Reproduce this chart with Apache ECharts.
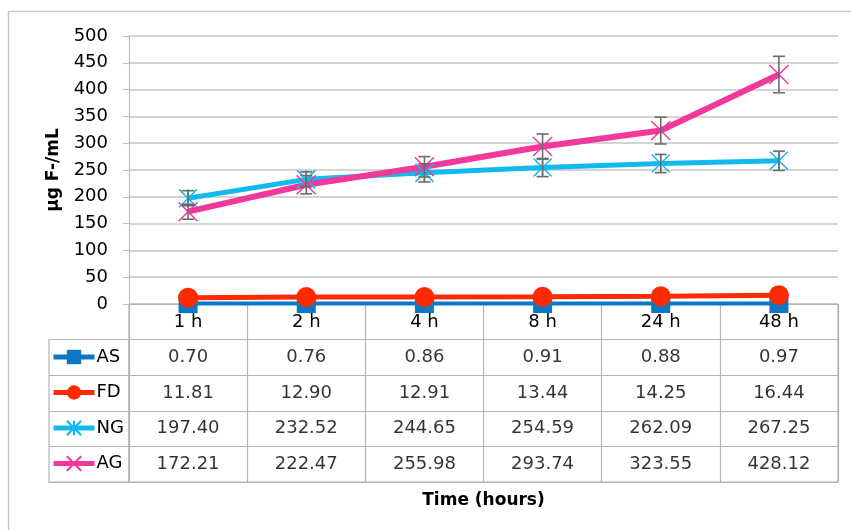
<!DOCTYPE html>
<html>
<head>
<meta charset="utf-8">
<script src="https://cdn.jsdelivr.net/npm/echarts@6/dist/echarts.min.js"></script>
<style>
  html, body { margin: 0; padding: 0; background: #fff; }
  #chart { width: 851px; height: 530px; }
</style>
</head>
<body>
<div id="chart"></div>
<script>
// data
const categories = ['1 h', '2 h', '4 h', '8 h', '24 h', '48 h']
const AS = [0.70, 0.76, 0.86, 0.91, 0.88, 0.97]
const FD = [11.81, 12.90, 12.91, 13.44, 14.25, 16.44]
const NG = [197.40, 232.52, 244.65, 254.59, 262.09, 267.25]
const AG = [172.21, 222.47, 255.98, 293.74, 323.55, 428.12]
// error bar half-widths
const NG_err = [14, 14, 17, 17, 17, 18]
const AG_err = [14, 17, 19, 23.5, 25, 34]

const FONT = 'DejaVu Sans'
const GRID_LINE = '#c6c6c6'
const TABLE_LINE = '#b4b4b4'

const colors = {
  AS: '#0b78c6',
  FD: '#ff2a00',
  NG: '#10b9ee',
  AG: '#f2389b'
}

const starPath = 'path://M0,0L10,10M10,0L0,10M5,0L5,10'
const crossPath = 'path://M0,0L10,10M10,0L0,10'

// rows of the data table, top to bottom
const tableRows = [AS, FD, NG, AG]
const tableData = []
tableRows.forEach((row, i) => {
  row.forEach((v, j) => {
    tableData.push([j, tableRows.length - 0.5 - i, v])
  })
})

function errData(vals, errs) {
  return vals.map((v, j) => [j, v - errs[j], v + errs[j]])
}

function errorBars(name, data) {
  return {
    name: name,
    type: 'custom',
    xAxisIndex: 0,
    yAxisIndex: 0,
    z: 5,
    silent: true,
    encode: { x: 0, y: [1, 2] },
    data: data,
    renderItem: function(params, api) {
      const lo = api.coord([api.value(0), api.value(1)])
      const hi = api.coord([api.value(0), api.value(2)])
      const w = 6
      const style = { stroke: '#6c6c6c', lineWidth: 1.6 }
      return {
        type: 'group',
        children: [
          { type: 'line', shape: { x1: hi[0], y1: hi[1], x2: lo[0], y2: lo[1] }, style: style },
          { type: 'line', shape: { x1: hi[0] - w, y1: hi[1], x2: hi[0] + w, y2: hi[1] }, style: style },
          { type: 'line', shape: { x1: lo[0] - w, y1: lo[1], x2: lo[0] + w, y2: lo[1] }, style: style }
        ]
      }
    }
  }
}

const chart = echarts.init(document.getElementById('chart'))

chart.setOption({
  animation: false,
  textStyle: { fontFamily: FONT },
  graphic: [
    {
      type: 'rect',
      shape: { x: 8.5, y: 11.5, width: 900, height: 600 },
      style: { fill: 'none', stroke: '#c4c4c4', lineWidth: 1.5 },
      silent: true
    }
  ],
  legend: {
    orient: 'vertical',
    left: 51,
    top: 348,
    padding: 0,
    itemWidth: 41,
    itemHeight: 18,
    itemGap: 17.5,
    selectedMode: false,
    data: [
      { name: 'AS', lineStyle: { width: 5 } },
      { name: 'FD', lineStyle: { width: 5 } },
      { name: 'NG', lineStyle: { width: 5 } },
      { name: 'AG', lineStyle: { width: 5 } }
    ],
    textStyle: { fontFamily: FONT, fontSize: 18, color: '#000', lineHeight: 18, padding: [0, 0, 0, -3] }
  },
  grid: [
    { left: 129, right: 13, top: 36, bottom: 226 },
    { left: 129, right: 13, top: 304, bottom: 48, show: true, borderColor: TABLE_LINE, borderWidth: 1.2 },
    { left: 49, width: 80, top: 339.5, bottom: 48, show: true, borderColor: TABLE_LINE, borderWidth: 1.2 }
  ],
  xAxis: [
    {
      gridIndex: 0,
      type: 'category',
      data: categories,
      boundaryGap: true,
      axisLine: { show: false },
      axisTick: { show: false },
      axisLabel: { color: '#000', fontSize: 18, margin: 9, fontFamily: FONT }
    },
    {
      gridIndex: 1,
      type: 'category',
      data: categories,
      boundaryGap: true,
      axisLine: { show: false },
      axisTick: { show: false },
      axisLabel: { show: false },
      splitLine: { show: true, lineStyle: { color: TABLE_LINE, width: 1.2 } },
      name: 'Time (hours)',
      nameLocation: 'middle',
      nameGap: 10,
      nameTextStyle: { fontFamily: FONT, fontSize: 17, fontWeight: 'bold', color: '#000', verticalAlign: 'top' }
    },
    {
      gridIndex: 2,
      type: 'value',
      min: 0,
      max: 1,
      show: false
    }
  ],
  yAxis: [
    {
      gridIndex: 0,
      type: 'value',
      min: 0,
      max: 500,
      interval: 50,
      axisLine: { show: true, lineStyle: { color: '#bdbdbd', width: 1.2 } },
      axisTick: { show: true, length: 6, lineStyle: { color: '#bdbdbd', width: 1.2 } },
      axisLabel: { color: '#000', fontSize: 18, margin: 21, fontFamily: FONT },
      splitLine: { lineStyle: { color: GRID_LINE, width: 1.5 } },
      name: 'μg F-/mL',
      nameLocation: 'middle',
      nameRotate: 90,
      nameGap: 67,
      nameTextStyle: { fontFamily: FONT, fontSize: 17, fontWeight: 'bold', color: '#000' }
    },
    {
      gridIndex: 1,
      type: 'value',
      min: 0,
      max: 5,
      interval: 1,
      axisLine: { show: false },
      axisTick: { show: false },
      axisLabel: { show: false },
      splitLine: { show: true, lineStyle: { color: TABLE_LINE, width: 1.2 } }
    },
    {
      gridIndex: 2,
      type: 'value',
      min: 0,
      max: 4,
      interval: 1,
      axisLine: { show: false },
      axisTick: { show: false },
      axisLabel: { show: false },
      splitLine: { show: true, lineStyle: { color: TABLE_LINE, width: 1.2 } }
    }
  ],
  series: [
    {
      name: 'AS',
      type: 'line',
      data: AS,
      symbol: 'rect',
      symbolSize: 19,
      itemStyle: { color: colors.AS },
      lineStyle: { color: colors.AS, width: 4 }
    },
    {
      name: 'FD',
      type: 'line',
      data: FD,
      symbol: 'circle',
      symbolSize: 20,
      itemStyle: { color: colors.FD },
      lineStyle: { color: colors.FD, width: 5 }
    },
    {
      name: 'NG',
      type: 'line',
      data: NG,
      symbol: starPath,
      symbolSize: 18,
      itemStyle: { color: colors.NG, borderColor: colors.NG, borderWidth: 1.5 },
      lineStyle: { color: colors.NG, width: 5 }
    },
    {
      name: 'AG',
      type: 'line',
      data: AG,
      symbol: crossPath,
      symbolSize: 19,
      itemStyle: { color: colors.AG, borderColor: colors.AG, borderWidth: 1.5 },
      lineStyle: { color: colors.AG, width: 6 }
    },
    errorBars('NG error', errData(NG, NG_err)),
    errorBars('AG error', errData(AG, AG_err)),
    {
      name: 'table',
      type: 'scatter',
      xAxisIndex: 1,
      yAxisIndex: 1,
      silent: true,
      symbolSize: 1,
      itemStyle: { color: 'rgba(0,0,0,0)' },
      data: tableData,
      label: {
        show: true,
        position: 'inside',
        color: '#000',
        fontSize: 18,
        fontFamily: FONT,
        formatter: p => Number(p.value[2]).toFixed(2)
      }
    }
  ]
})
</script>
</body>
</html>
